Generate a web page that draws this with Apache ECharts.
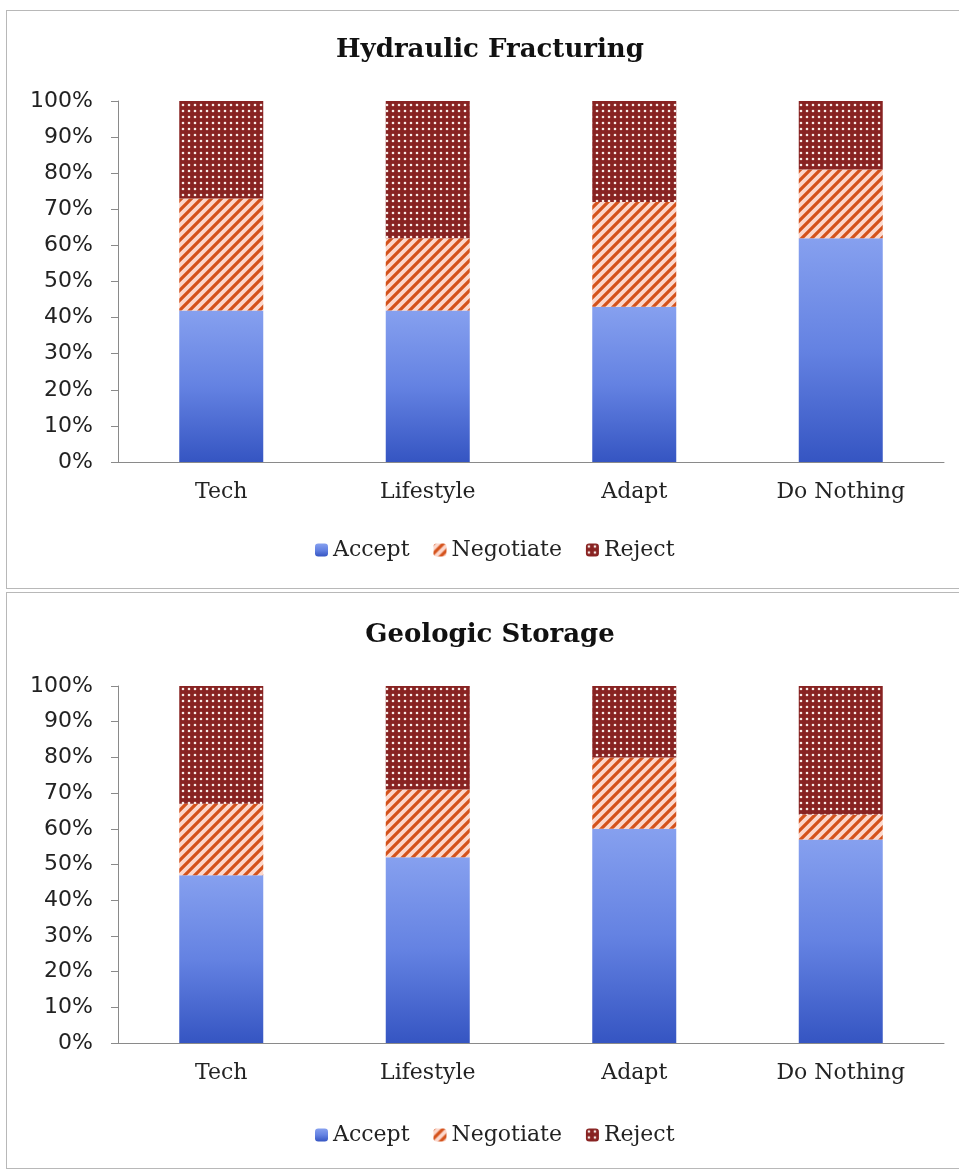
<!DOCTYPE html>
<html>
<head>
<meta charset="utf-8">
<script src="https://cdn.jsdelivr.net/npm/echarts@6/dist/echarts.min.js"></script>
<style>
  body { margin: 0; background: #fff; }
  .panel { position: absolute; left: 6px; width: 960px; border: 1px solid #b8b8b8; }
  .chart { position: absolute; left: 0; width: 959px; }
</style>
</head>
<body>
<div class="panel" style="top:10px;height:577px"></div>
<div class="panel" style="top:592px;height:575px"></div>
<div id="hf" class="chart" style="top:0;height:590px"></div>
<div id="gs" class="chart" style="top:590px;height:580px"></div>
<script>
const categories = ["Tech", "Lifestyle", "Adapt", "Do Nothing"];
const seriesNames = ["Accept", "Negotiate", "Reject"];

// Hydraulic Fracturing (percent)
const hfAccept = [42, 42, 43, 62];
const hfNegotiate = [31, 20, 29, 19];
const hfReject = [27, 38, 28, 19];

// Geologic Storage (percent)
const gsAccept = [47, 52, 60, 57];
const gsNegotiate = [20, 19, 20, 7];
const gsReject = [33, 29, 20, 36];

const serif = "DejaVu Serif";
const sans = "DejaVu Sans";

// hatch fill for Negotiate
const makeStripes = () => {
  const c = document.createElement("canvas");
  c.width = c.height = 10;
  const g = c.getContext("2d");
  g.fillStyle = "#fcd8cd";
  g.fillRect(0, 0, 10, 10);
  g.strokeStyle = "#d4521b";
  g.lineWidth = 3.2;
  g.beginPath();
  g.moveTo(0, 10); g.lineTo(10, 0);
  g.moveTo(-5, 5); g.lineTo(5, -5);
  g.moveTo(5, 15); g.lineTo(15, 5);
  g.stroke();
  return c;
};

// dotted fill for Reject
const makeDots = () => {
  const c = document.createElement("canvas");
  c.width = c.height = 6;
  const g = c.getContext("2d");
  g.fillStyle = "#88232290".slice(0, 7);
  g.fillRect(0, 0, 6, 6);
  g.fillStyle = "#f8ece8";
  g.beginPath();
  g.arc(3, 3, 1.3, 0, Math.PI * 2);
  g.fill();
  return c;
};

const stripeFill = { image: makeStripes(), repeat: "repeat" };
const dotFill = { image: makeDots(), repeat: "repeat" };
const blueFill = new echarts.graphic.LinearGradient(0, 0, 0, 1, [
  { offset: 0, color: "#86a0ef" },
  { offset: 0.5, color: "#6482e2" },
  { offset: 1, color: "#3555c2" },
]);

const buildOption = (title, accept, negotiate, reject, layout) => ({
  animation: false,
  graphic: [
    {
      type: "text",
      x: 490,
      y: layout.titleY,
      style: {
        text: title,
        font: `bold 26px "${serif}"`,
        fill: "#111",
        textAlign: "center",
        textVerticalAlign: "middle",
      },
    },
  ],
  legend: {
    data: seriesNames,
    left: 310,
    top: layout.legendTop,
    itemWidth: 13,
    itemHeight: 13,
    itemGap: 24,
    textStyle: { fontFamily: serif, fontSize: 22, color: "#222" },
  },
  grid: { left: 118, width: 826, top: layout.gridTop, height: layout.gridHeight },
  xAxis: {
    type: "category",
    data: categories,
    axisLine: { lineStyle: { color: "#8a8a8a" } },
    axisTick: { length: 6, lineStyle: { color: "#8a8a8a" } },
    axisLabel: { fontFamily: serif, fontSize: 22, color: "#222", margin: 19 },
  },
  yAxis: {
    type: "value",
    min: 0,
    max: 100,
    interval: 10,
    axisLine: { show: true, lineStyle: { color: "#8a8a8a" } },
    axisTick: { show: true, length: 7, lineStyle: { color: "#8a8a8a" } },
    splitLine: { show: false },
    axisLabel: {
      formatter: "{value}%",
      fontFamily: sans,
      fontSize: 22,
      color: "#222",
      margin: 25,
    },
  },
  series: [
    { name: "Accept", type: "bar", stack: "all", barWidth: 84, data: accept, itemStyle: { color: blueFill } },
    { name: "Negotiate", type: "bar", stack: "all", barWidth: 84, data: negotiate, itemStyle: { color: stripeFill } },
    { name: "Reject", type: "bar", stack: "all", barWidth: 84, data: reject, itemStyle: { color: dotFill } },
  ],
});

const hfChart = echarts.init(document.getElementById("hf"));
hfChart.setOption(
  buildOption("Hydraulic Fracturing", hfAccept, hfNegotiate, hfReject, {
    titleY: 50,
    legendTop: 534,
    gridTop: 101,
    gridHeight: 361,
  })
);

const gsChart = echarts.init(document.getElementById("gs"));
gsChart.setOption(
  buildOption("Geologic Storage", gsAccept, gsNegotiate, gsReject, {
    titleY: 45,
    legendTop: 529,
    gridTop: 96,
    gridHeight: 357,
  })
);
</script>
</body>
</html>
